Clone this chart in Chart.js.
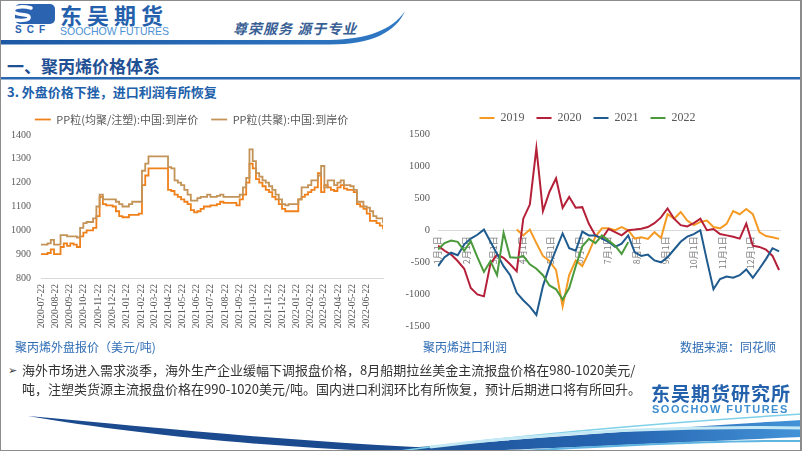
<!DOCTYPE html>
<html>
<head>
<meta charset="utf-8">
<title>聚丙烯价格体系</title>
<script src="https://cdn.jsdelivr.net/npm/chart.js@4.4.1/dist/chart.umd.min.js"></script>
<style>
  html, body { margin: 0; padding: 0; background: #fff; }
  body { width: 802px; height: 451px; position: relative; overflow: hidden;
         font-family: "Noto Sans CJK SC", "Noto Sans", sans-serif; }
  .abs { position: absolute; white-space: nowrap; line-height: 1; }
  #frame { position: absolute; left: 0; top: 0; width: 802px; height: 451px; box-sizing: border-box;
           border: 1px solid #8c8c8c; border-right: 2px solid #8c8c8c; pointer-events: none; }
  .brand { left: 60px; top: 3px; font-size: 22px; font-weight: 700; color: #2560ac; letter-spacing: 5px; }
  .brand-en { left: 60px; top: 25px; font: 10.5px "Liberation Sans", sans-serif; color: #4d92d4; }
  .slogan { left: 233px; top: 21px; font-size: 14px; font-weight: 700; font-style: italic; color: #3a5f95; letter-spacing: 1px; }
  .title { left: 7px; top: 57px; font-size: 17px; font-weight: 700; color: #1f5094; }
  .subtitle { left: 7px; top: 85px; font-size: 13px; font-weight: 700; color: #2060aa; }
  .caption { top: 341px; font-size: 12px; color: #2f6db5; }
  .note { left: 22px; font-size: 13px; color: #333; }
  .bullet { left: 8px; top: 364px; font: 11px "DejaVu Sans", sans-serif; color: #333; }
  .logo2 { left: 651px; top: 383px; font-size: 19px; font-weight: 700; color: #2461ad; letter-spacing: 1px; }
  .logo2-en { left: 652px; top: 403px; font: bold 11px "Liberation Sans", sans-serif; color: #3e8ed0; letter-spacing: 1.5px; }
  canvas { position: absolute; }
</style>
</head>
<body>
<svg class="abs" style="left:0;top:0" width="802" height="451">
  <defs>
    <linearGradient id="hl" x1="0" x2="1"><stop offset="0" stop-color="#1d58a4"/><stop offset="1" stop-color="#3079c4"/></linearGradient>
    <linearGradient id="bw" x1="0" x2="1"><stop offset="0" stop-color="#1a4d92"/><stop offset="0.6" stop-color="#2766b2"/><stop offset="1" stop-color="#4393d8"/></linearGradient>
  </defs>
  <!-- header logo -->
  <rect x="15" y="4" width="40" height="20" rx="5" fill="#2b63b1"/>
  <path d="M31,8 C20,5 11,8 14,12 C17,16 30,13 29,18 C28,21 18,21 10,19" stroke="#fff" stroke-width="3.5" fill="none" stroke-linecap="round"/>
  <text x="15" y="33" font-size="10" font-weight="bold" fill="#2b63b1" letter-spacing="5" font-family="Liberation Sans">SCF</text>
  <!-- header line -->
  <path d="M0,40 L330,40 C368,39 392,30 405,11 C396,32 372,44.5 330,44.5 L0,44.5 Z" fill="url(#hl)"/>
  <rect x="0" y="77" width="802" height="2.5" fill="#2a67b1"/>
  <!-- footer swoosh -->
  <path d="M28,416 C160,428 330,446 520,451 L380,451 C250,446 120,432 28,416 Z" fill="#1b4a8e"/>
  <path d="M360,451 C520,440 660,428 802,420 L802,437 C660,443 540,449 470,451 Z" fill="url(#bw)"/>
  <path d="M400,451 C540,432 690,421 802,414" stroke="#7fd0e8" stroke-width="1.5" fill="none"/>
  <path d="M430,447 C570,430 700,426 802,428" stroke="#c4e9f5" stroke-width="3" fill="none"/>
  <path d="M520,451 C640,444 730,440 802,441" stroke="#5fb4e0" stroke-width="2" fill="none"/>
</svg>

<div class="abs brand">东吴期货</div>
<div class="abs brand-en">SOOCHOW FUTURES</div>
<div class="abs slogan">尊荣服务 源于专业</div>
<div class="abs title">一、聚丙烯价格体系</div>
<div class="abs subtitle">3. 外盘价格下挫，进口利润有所恢复</div>

<canvas id="priceChart" width="400" height="245" style="left:0;top:100px"></canvas>
<canvas id="profitChart" width="400" height="245" style="left:395px;top:100px"></canvas>

<div class="abs caption" style="left:15px">聚丙烯外盘报价（美元/吨)</div>
<div class="abs caption" style="left:423px">聚丙烯进口利润</div>
<div class="abs caption" style="left:680px">数据来源：同花顺</div>

<div class="abs bullet">➢</div>
<div class="abs note" style="top:363px">海外市场进入需求淡季，海外生产企业缓幅下调报盘价格，8月船期拉丝美金主流报盘价格在980-1020美元/</div>
<div class="abs note" style="top:382px">吨，注塑类货源主流报盘价格在990-1020美元/吨。国内进口利润环比有所恢复，预计后期进口将有所回升。</div>

<div class="abs logo2">东吴期货研究所</div>
<div class="abs logo2-en">SOOCHOW FUTURES</div>
<div id="frame"></div>

<script>
// 左图：PP外盘报价，周度数据，起点 2020-07-22
const priceStart = "2020-07-22";
const priceTickLabels = [
  "2020-07-22", "2020-08-22", "2020-09-22", "2020-10-22", "2020-11-22", "2020-12-22",
  "2021-01-22", "2021-02-22", "2021-03-22", "2021-04-22", "2021-05-22", "2021-06-22",
  "2021-07-22", "2021-08-22", "2021-09-22", "2021-10-22", "2021-11-22", "2021-12-22",
  "2022-01-22", "2022-02-22", "2022-03-22", "2022-04-22", "2022-05-22", "2022-06-22",
];
const homoPrice = [
  900, 900, 905, 920, 900, 900, 930, 945, 935, 945,
  940, 930, 975, 990, 1000, 1000, 1010, 1060, 1140, 1110,
  1105, 1105, 1100, 1080, 1060, 1055, 1055, 1065, 1065, 1065,
  1070, 1190, 1230, 1260, 1260, 1260, 1260, 1260, 1260, 1170,
  1165, 1150, 1140, 1130, 1120, 1110, 1085, 1075, 1080, 1090,
  1100, 1100, 1105, 1105, 1110, 1120, 1115, 1115, 1115, 1115,
  1105, 1130, 1150, 1200, 1280, 1260, 1215, 1200, 1185, 1170,
  1160, 1140, 1130, 1110, 1090, 1080, 1080, 1080, 1080, 1130,
  1140, 1150, 1160, 1170, 1180, 1240, 1160, 1190, 1180, 1170,
  1165, 1180, 1190, 1175, 1170, 1170, 1160, 1110, 1100, 1090,
  1070, 1040, 1040, 1030, 1020, 1005,
];
const copoPrice = [
  940, 940, 945, 960, 940, 940, 980, 980, 975, 975,
  975, 970, 1010, 1030, 1035, 1035, 1050, 1100, 1150, 1130,
  1130, 1130, 1130, 1120, 1110, 1100, 1100, 1110, 1120, 1120,
  1120, 1250, 1280, 1310, 1310, 1310, 1310, 1310, 1310, 1265,
  1260, 1210, 1200, 1190, 1170, 1150, 1125, 1125, 1135, 1140,
  1140, 1150, 1140, 1140, 1145, 1150, 1140, 1140, 1140, 1140,
  1140, 1150, 1180, 1220, 1340, 1290, 1240, 1225, 1210, 1200,
  1185, 1170, 1150, 1130, 1110, 1105, 1110, 1110, 1110, 1130,
  1180, 1180, 1190, 1210, 1210, 1230, 1270, 1180, 1210, 1210,
  1190, 1200, 1210, 1190, 1190, 1185, 1170, 1120, 1120, 1100,
  1095, 1080, 1060, 1050, 1050, 1030,
];

// 右图：进口利润，按周取值，x 为年内天数
const profitTickLabels = ["1月1日", "2月1日", "3月1日", "4月1日", "5月1日", "6月1日",
                          "7月1日", "8月1日", "9月1日", "10月1日", "11月1日", "12月1日"];
const profit2019 = [
  null, null, null, null, null, null, null, null, null, null, null, null,
  13, -80, 10, -200, -400, -480, -620, -1190, -700, -470,
  -560, -345, -100, 30, 30, 0, 50, 0, -130, -108,
  -134, -30, -120, 250, 180, 285, 150, 80, 130, 150,
  50, 30, 100, 300, 250, 330, 250, -30, -90, -108, -134,
];
const profit2020 = [
  -240, -320, -380, -480, -600, -900, -1000, -1030, -520, -380,
  -430, -530, -640, 180, 400, 1280, 300, 600, 810, 350,
  520, 350, 360, 100, -80, -130, 20, -30, -80, 0,
  10, 25, 50, 110, 200, 340, 180, 80, 60, 110,
  180, 0, 20, -60, -80, -100, -130, 104, -240, -260,
  -300, -400, -620,
];
const profit2021 = [
  -560, -420, -350, -390, -220, -130, -70, 10, -180, -370,
  -560, -700, -975, -1090, -1190, -1320, -870, -560, -300, -50,
  -280, -320, -20, -80, -80, -130, -180, -260, -210, -80,
  -345, -400, -380, -470, -500, -420, -300, -180, -100, -60,
  0, -470, -920, -760, -720, -740, -700, -610, -740, -600,
  -450, -280, -330,
];
const profit2022 = [
  -300, -200, -160, -180, -320, -170, -420, -650, -480, -700,
  -40, -420, -430, -400, -530, -600, -700, -860, -920, -1080,
  -900, -560, -250, -134, -200, -80, -160, -240, -370, -185,
];

const DAY_MS = 86400000;
const dayOffset = (s, base) => Math.round((Date.parse(s) - Date.parse(base)) / DAY_MS);
const weekly = arr => arr.map((v, i) => ({ x: i * 7, y: v }));
const monthDays = profitTickLabels.map((_, m) =>
  dayOffset(`2019-${String(m + 1).padStart(2, "0")}-01`, "2019-01-01"));

const greyText = "#595959";
const serif = "Liberation Serif";
const plain = v => String(v);   // no thousands separator, as in the source

new Chart(document.getElementById("priceChart"), {
  type: "line",
  data: {
    datasets: [
      { label: "PP粒(均聚/注塑):中国:到岸价", data: weekly(homoPrice), borderColor: "#f0801a",
        backgroundColor: "#f0801a", borderWidth: 1.8, pointRadius: 0, stepped: true, order: 1 },
      { label: "PP粒(共聚):中国:到岸价", data: weekly(copoPrice), borderColor: "#c39358",
        backgroundColor: "#c39358", borderWidth: 1.8, pointRadius: 0, stepped: true, order: 0 },
    ],
  },
  options: {
    responsive: false,
    animation: false,
    devicePixelRatio: 1,
    layout: { padding: { left: 0, right: 17, top: 1, bottom: 0 } },
    plugins: {
      legend: {
        labels: {
          usePointStyle: true, pointStyle: "line", pointStyleWidth: 16, padding: 13,
          color: greyText, font: { family: "Noto Sans CJK SC", size: 11 },
          sort: (a, b) => a.datasetIndex - b.datasetIndex,
        },
      },
      tooltip: { enabled: false },
    },
    scales: {
      x: {
        type: "linear", min: 0, max: 735,
        grid: { display: false, drawTicks: false },
        border: { color: "#d9d9d9" },
        afterBuildTicks: s => { s.ticks = priceTickLabels.map(l => ({ value: dayOffset(l, priceStart) })); },
        afterFit: s => { s.height = 67; },
        ticks: {
          autoSkip: false, minRotation: 90, maxRotation: 90, padding: 6,
          color: greyText, font: { family: serif, size: 9.5 },
          callback: (v, i) => priceTickLabels[i],
        },
      },
      y: {
        min: 800, max: 1400,
        grid: { display: false, drawTicks: false },
        border: { display: false },
        afterFit: s => { s.width = 41; },
        ticks: { stepSize: 100, padding: 10, color: greyText, font: { family: serif, size: 10 }, callback: plain },
      },
    },
  },
});

const profitSeries = [
  ["2019", profit2019, "#f59a23"],
  ["2020", profit2020, "#b52039"],
  ["2021", profit2021, "#1f5b8e"],
  ["2022", profit2022, "#4a9a3c"],
];

new Chart(document.getElementById("profitChart"), {
  type: "line",
  data: {
    datasets: profitSeries.map(([label, values, color], i) => ({
      label, data: weekly(values), borderColor: color, backgroundColor: color,
      borderWidth: 2, pointRadius: 0, tension: 0, order: profitSeries.length - i,
    })),
  },
  options: {
    responsive: false,
    animation: false,
    devicePixelRatio: 1,
    layout: { padding: { left: 0, right: 15, top: 0, bottom: 18.5 } },
    plugins: {
      legend: {
        labels: {
          usePointStyle: true, pointStyle: "line", pointStyleWidth: 15, padding: 12,
          color: greyText, font: { family: serif, size: 12 },
          sort: (a, b) => a.datasetIndex - b.datasetIndex,
        },
      },
      tooltip: { enabled: false },
    },
    scales: {
      x: {
        type: "linear", min: 0, max: 365,
        position: { y: 0 },
        grid: { display: false, drawTicks: false },
        border: { color: "#d9d9d9" },
        afterBuildTicks: s => { s.ticks = monthDays.map(d => ({ value: d })); },
        ticks: {
          autoSkip: false, minRotation: 90, maxRotation: 90, padding: 6,
          color: "#7f7f7f", font: { family: "Noto Sans CJK SC", size: 9 },
          callback: (v, i) => profitTickLabels[i],
        },
      },
      y: {
        min: -1500, max: 1500,
        grid: { display: false, drawTicks: false },
        border: { display: false },
        afterFit: s => { s.width = 43; },
        ticks: { stepSize: 500, padding: 8, color: greyText, font: { family: serif, size: 10.5 }, callback: plain },
      },
    },
  },
});
</script>
</body>
</html>
